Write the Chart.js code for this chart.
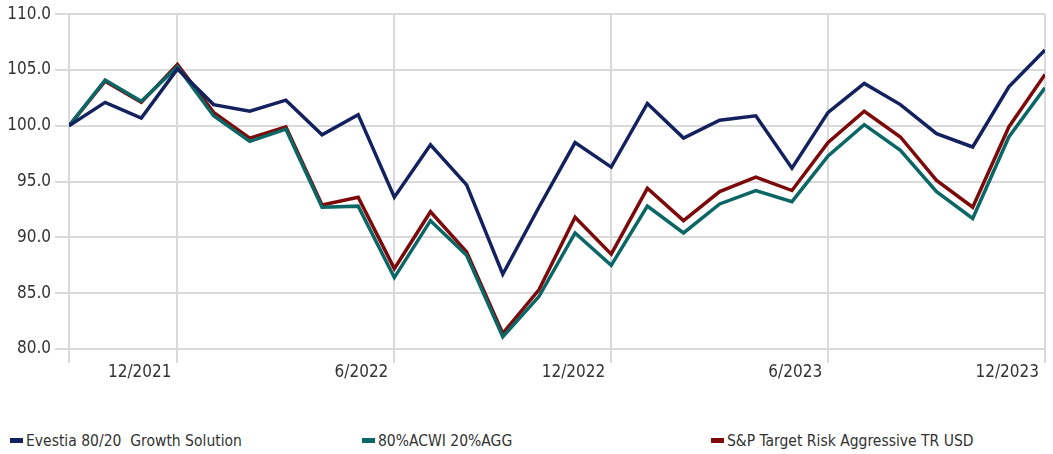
<!DOCTYPE html>
<html>
<head>
<meta charset="utf-8">
<script src="https://cdn.jsdelivr.net/npm/chart.js@4.4.1/dist/chart.umd.min.js"></script>
<style>
  html, body { margin: 0; padding: 0; background: #fff; }
  #wrap { position: relative; width: 1053px; height: 454px; }
  #chart-box { position: absolute; left: 0; top: 0; width: 1053px; height: 390px; }
  #legend { position: absolute; left: 0; top: 431px; width: 1053px; height: 20px;
            font-family: 'Liberation Sans Narrow', 'DejaVu Sans Condensed', sans-serif;
            font-size: 15.5px; color: #333; }
  .leg-item { position: absolute; top: 0; white-space: pre; line-height: 20px; }
  .leg-box { display: inline-block; width: 13px; height: 5px; vertical-align: middle;
             margin-right: 3px; position: relative; top: -1px; }
</style>
</head>
<body>
<div id="wrap">
  <div id="chart-box"><canvas id="line-chart"></canvas></div>
  <div id="legend"></div>
</div>
<script>
// meses de 9/2021 a 12/2023
const months = [
  '9/2021', '10/2021', '11/2021', '12/2021', '1/2022', '2/2022', '3/2022',
  '4/2022', '5/2022', '6/2022', '7/2022', '8/2022', '9/2022', '10/2022',
  '11/2022', '12/2022', '1/2023', '2/2023', '3/2023', '4/2023', '5/2023',
  '6/2023', '7/2023', '8/2023', '9/2023', '10/2023', '11/2023', '12/2023',
];

const seriesNames = [
  'Evestia 80/20  Growth Solution',
  '80%ACWI 20%AGG',
  'S&P Target Risk Aggressive TR USD',
];

const evestia = [
  100.0, 102.1, 100.7, 105.1, 101.9, 101.3, 102.3, 99.2, 101.0, 93.6,
  98.3, 94.7, 86.7, 92.7, 98.5, 96.3, 102.0, 98.9, 100.5, 100.9,
  96.2, 101.2, 103.8, 101.9, 99.3, 98.1, 103.5, 106.8,
];

const acwiAgg = [
  100.0, 104.1, 102.2, 105.3, 100.9, 98.6, 99.7, 92.7, 92.8, 86.4,
  91.5, 88.4, 81.1, 84.7, 90.4, 87.5, 92.8, 90.4, 93.0, 94.2,
  93.2, 97.3, 100.1, 97.8, 94.1, 91.7, 99.0, 103.4,
];

const spTarget = [
  100.0, 104.0, 102.1, 105.5, 101.2, 98.9, 99.9, 92.9, 93.6, 87.2,
  92.3, 88.7, 81.4, 85.3, 91.8, 88.5, 94.4, 91.5, 94.1, 95.4,
  94.2, 98.5, 101.3, 99.0, 95.1, 92.7, 99.9, 104.6,
];

const seriesColors = ['#13215f', '#0b6766', '#7d0a0a'];

// posições dos rótulos do eixo x (índice do mês) e textos
const xTickIndex  = [0, 3, 9, 15, 21, 27];
const xTickLabels = ['', '12/2021', '6/2022', '12/2022', '6/2023', '12/2023'];

const yTicks = [80, 85, 90, 95, 100, 105, 110];

const FONT = "'Liberation Sans Narrow', 'DejaVu Sans Condensed', sans-serif";

function toPoints(values) {
  return values.map((v, i) => ({ x: i, y: v }));
}

function renderLegend(chart) {
  const el = document.getElementById('legend');
  const lefts = [10, 362, 711];
  el.innerHTML = chart.data.datasets.map((ds, i) => `
    <span class="leg-item" style="left:${lefts[i]}px">` +
      `<span class="leg-box" style="background:${ds.borderColor}"></span>` +
      `${ds.label.replace('&', '&amp;')}</span>`
  ).join('');
}

function renderChart() {
  const ctx = document.getElementById('line-chart');
  const allSeries = [evestia, acwiAgg, spTarget];

  const chart = new Chart(ctx, {
    type: 'line',
    data: {
      datasets: allSeries.map((values, i) => ({
        label: seriesNames[i],
        data: toPoints(values),
        borderColor: seriesColors[i],
        backgroundColor: seriesColors[i],
        borderWidth: 3.5,
        pointRadius: 0,
        tension: 0,
        borderJoinStyle: 'miter',
      })),
    },
    options: {
      responsive: true,
      maintainAspectRatio: false,
      animation: false,
      layout: { padding: { top: 14, right: 8, left: 0, bottom: 0 } },
      plugins: {
        legend: { display: false },
        tooltip: { enabled: false },
      },
      scales: {
        x: {
          type: 'linear',
          min: 0,
          max: months.length - 1,
          afterBuildTicks: scale => {
            scale.ticks = xTickIndex.map(v => ({ value: v }));
          },
          afterFit: scale => { scale.height = 41; },
          grid: {
            color: '#dadada',
            lineWidth: 2,
            drawTicks: true,
            tickLength: 14,
          },
          border: { display: false },
          ticks: {
            autoSkip: false,
            maxRotation: 0,
            align: 'end',
            labelOffset: -6,
            padding: -1,
            color: '#333',
            font: { family: FONT, size: 17 },
            callback: value => {
              const idx = xTickIndex.indexOf(value);
              return idx >= 0 ? xTickLabels[idx] : '';
            },
          },
        },
        y: {
          min: 80,
          max: 110,
          afterBuildTicks: scale => {
            scale.ticks = yTicks.map(v => ({ value: v }));
          },
          afterFit: scale => { scale.width = 69; },
          grid: {
            color: '#dadada',
            lineWidth: 2,
            drawTicks: true,
            tickLength: 14,
          },
          border: { display: false },
          ticks: {
            padding: 4,
            color: '#333',
            font: { family: FONT, size: 17 },
            callback: value => value.toFixed(1),
          },
        },
      },
    },
  });

  renderLegend(chart);
}

document.addEventListener('DOMContentLoaded', () => {
  renderChart();
});
</script>
</body>
</html>
